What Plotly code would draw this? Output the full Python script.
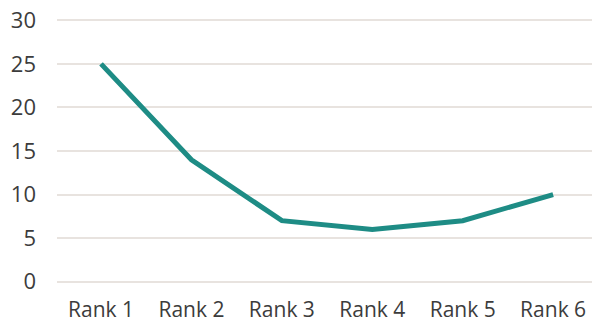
import plotly.graph_objects as go

categories = ["Rank 1", "Rank 2", "Rank 3", "Rank 4", "Rank 5", "Rank 6"]
values = [25, 14, 7, 6, 7, 10]
y_ticks = [0, 5, 10, 15, 20, 25, 30]

line_color = "#1e8c85"
grid_color = "#e8e3df"
text_color = "#3c3c3c"
font_family = "Open Sans, Noto Sans, sans-serif"

fig = go.Figure(
    go.Scatter(
        x=list(range(len(categories))),
        y=values,
        mode="lines",
        line=dict(color=line_color, width=5),
        hoverinfo="skip",
    )
)

fig.update_layout(
    width=592,
    height=327,
    margin=dict(l=57, r=0, t=15.6, b=41.1),
    paper_bgcolor="white",
    plot_bgcolor="white",
    showlegend=False,
    font=dict(family=font_family, size=22, color=text_color),
)

fig.update_xaxes(
    range=[-0.487, 5.43],
    tickmode="array",
    tickvals=list(range(len(categories))),
    ticktext=categories,
    showgrid=False,
    zeroline=False,
    showline=False,
    ticks="",
    ticklabelstandoff=9,
    tickfont=dict(size=21),
    automargin=False,
)

fig.update_yaxes(
    range=[-0.5, 30.5],
    tickmode="array",
    tickvals=y_ticks,
    showgrid=True,
    gridcolor=grid_color,
    gridwidth=2,
    zeroline=False,
    showline=False,
    ticks="",
    ticklabelstandoff=20,
    tickfont=dict(size=22),
    automargin=False,
)

fig.write_html("out.html")
